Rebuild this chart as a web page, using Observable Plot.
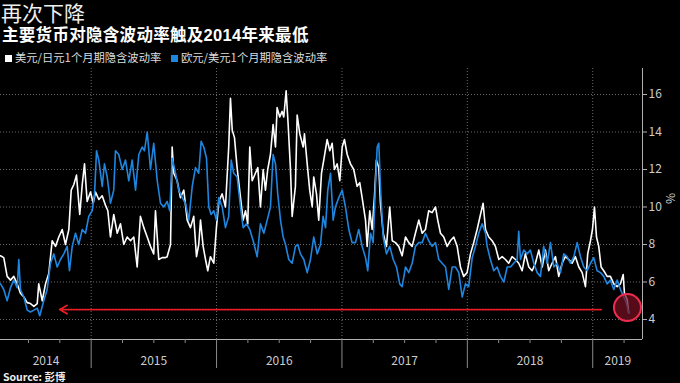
<!DOCTYPE html>
<html><head><meta charset="utf-8">
<script src="https://cdn.jsdelivr.net/npm/d3@7"></script>
<script src="https://cdn.jsdelivr.net/npm/@observablehq/plot@0.6"></script>
<style>
html,body{margin:0;padding:0;background:#000;width:680px;height:383px;overflow:hidden;font-family:"Noto Sans CJK SC","Noto Sans",sans-serif;}
#title{position:absolute;left:1px;top:2px;font-family:"Liberation Sans","Noto Sans CJK SC",sans-serif;font-size:21px;color:#eee;line-height:24px;white-space:nowrap}
#subtitle{position:absolute;left:2px;top:25px;font-family:"Liberation Sans","Noto Sans CJK SC",sans-serif;font-size:16.5px;font-weight:bold;color:#fff;line-height:20px;white-space:nowrap;letter-spacing:0.3px}
.leg{position:absolute;top:49px;font-size:11.3px;color:#ddd;line-height:16px;white-space:nowrap}
.sw{display:inline-block;width:7px;height:7px;margin-right:3px;vertical-align:0px}
#chart{position:absolute;left:0;top:64px}
#source{position:absolute;left:3px;top:370px;font-size:10.5px;font-weight:bold;color:#eee;line-height:14px;white-space:nowrap}
</style></head>
<body>
<div id="title">再次下降</div>
<div id="subtitle">主要货币对隐含波动率触及2014年来最低</div>
<div class="leg" style="left:5px"><span class="sw" style="background:#fff"></span>美元/日元1个月期隐含波动率</div>
<div class="leg" style="left:171px"><span class="sw" style="background:#1f86e0"></span>欧元/美元1个月期隐含波动率</div>
<div id="chart"></div>
<div id="source">Source: 彭博</div>
<script>
// [decimal year, implied vol %]
const usdjpy = [[2014.277,7.4],[2014.303,7.3],[2014.330,6.3],[2014.357,6.1],[2014.383,6.3],[2014.410,5.9],[2014.436,5.4],[2014.463,5.2],[2014.490,4.9],[2014.516,4.85],[2014.543,4.7],[2014.570,4.85],[2014.582,5.9],[2014.610,5.0],[2014.636,5.9],[2014.662,6.45],[2014.689,8.2],[2014.716,7.9],[2014.742,8.4],[2014.769,8.8],[2014.795,8.0],[2014.822,8.8],[2014.841,10.9],[2014.862,11.2],[2014.883,11.7],[2014.909,9.6],[2014.929,11.2],[2014.947,12.3],[2014.968,10.3],[2014.995,10.8],[2015.016,10.2],[2015.035,10.8],[2015.061,10.4],[2015.088,10.6],[2015.114,10.1],[2015.133,9.8],[2015.154,8.4],[2015.180,9.6],[2015.208,8.6],[2015.234,9.1],[2015.260,8.0],[2015.287,8.4],[2015.314,8.2],[2015.340,8.4],[2015.367,6.8],[2015.393,9.5],[2015.420,8.9],[2015.447,8.4],[2015.473,7.9],[2015.499,7.5],[2015.513,9.8],[2015.539,7.2],[2015.566,7.3],[2015.593,7.3],[2015.606,7.35],[2015.633,8.0],[2015.646,13.2],[2015.659,11.8],[2015.686,11.4],[2015.712,10.5],[2015.739,10.9],[2015.766,9.3],[2015.792,8.9],[2015.818,9.5],[2015.840,7.35],[2015.858,8.0],[2015.872,9.3],[2015.893,7.9],[2015.912,7.2],[2015.930,6.6],[2015.951,7.35],[2015.978,7.0],[2015.999,8.9],[2016.018,10.3],[2016.045,10.7],[2016.071,10.0],[2016.097,13.2],[2016.111,15.8],[2016.125,14.1],[2016.143,13.7],[2016.164,12.1],[2016.191,10.5],[2016.212,9.3],[2016.231,9.8],[2016.249,9.1],[2016.265,13.2],[2016.284,11.4],[2016.310,11.8],[2016.329,12.1],[2016.350,10.0],[2016.372,12.0],[2016.390,10.9],[2016.408,12.0],[2016.430,12.8],[2016.451,14.4],[2016.470,13.2],[2016.483,15.3],[2016.504,14.8],[2016.523,15.1],[2016.536,14.8],[2016.555,16.2],[2016.571,14.4],[2016.589,12.1],[2016.603,9.5],[2016.629,11.1],[2016.643,14.9],[2016.664,13.9],[2016.691,13.2],[2016.701,13.9],[2016.723,12.3],[2016.743,10.9],[2016.763,10.0],[2016.775,11.6],[2016.797,10.7],[2016.815,9.3],[2016.837,11.8],[2016.855,12.5],[2016.882,13.6],[2016.903,13.0],[2016.922,13.4],[2016.940,12.0],[2016.962,12.3],[2016.983,11.4],[2017.002,13.2],[2017.020,13.6],[2017.042,12.8],[2017.068,12.3],[2017.094,12.0],[2017.121,11.1],[2017.142,11.3],[2017.161,10.5],[2017.188,9.3],[2017.201,7.9],[2017.222,9.8],[2017.241,8.8],[2017.259,10.5],[2017.275,12.5],[2017.294,12.1],[2017.307,10.2],[2017.329,8.6],[2017.355,7.9],[2017.381,10.0],[2017.401,8.2],[2017.427,8.1],[2017.453,7.9],[2017.480,7.4],[2017.507,8.4],[2017.533,8.1],[2017.560,7.9],[2017.586,8.6],[2017.613,9.3],[2017.640,8.6],[2017.666,8.8],[2017.692,9.8],[2017.719,9.7],[2017.746,10.0],[2017.764,9.3],[2017.786,8.6],[2017.812,8.4],[2017.839,7.9],[2017.865,8.2],[2017.892,8.4],[2017.919,7.9],[2017.945,6.8],[2017.971,6.3],[2017.998,6.5],[2018.025,7.5],[2018.051,8.1],[2018.078,8.8],[2018.105,9.6],[2018.126,10.2],[2018.145,8.8],[2018.171,8.4],[2018.198,8.2],[2018.224,7.9],[2018.251,7.2],[2018.278,7.35],[2018.304,7.2],[2018.330,7.0],[2018.357,7.35],[2018.384,7.2],[2018.410,7.0],[2018.437,6.6],[2018.463,7.5],[2018.490,6.8],[2018.517,6.6],[2018.543,7.0],[2018.570,7.7],[2018.597,6.8],[2018.623,7.7],[2018.649,6.6],[2018.676,7.0],[2018.703,7.35],[2018.729,6.3],[2018.756,7.0],[2018.782,7.35],[2018.809,7.2],[2018.836,7.0],[2018.862,7.35],[2018.889,6.8],[2018.916,6.5],[2018.942,5.75],[2018.960,7.5],[2018.982,8.2],[2018.998,8.8],[2019.014,10.0],[2019.030,8.4],[2019.048,7.9],[2019.067,6.8],[2019.088,6.6],[2019.115,6.3],[2019.141,6.3],[2019.168,5.9],[2019.195,5.75],[2019.221,5.9],[2019.243,6.4],[2019.253,5.4],[2019.275,5.05],[2019.287,4.35]];

const eurusd = [[2014.277,5.9],[2014.303,5.6],[2014.330,5.0],[2014.357,5.7],[2014.383,6.1],[2014.410,5.7],[2014.423,7.2],[2014.436,5.6],[2014.463,5.2],[2014.490,4.5],[2014.516,4.4],[2014.543,4.5],[2014.570,4.6],[2014.590,4.2],[2014.622,5.0],[2014.649,5.6],[2014.676,7.0],[2014.702,7.5],[2014.729,6.8],[2014.755,7.2],[2014.782,7.5],[2014.809,7.9],[2014.827,6.6],[2014.849,7.9],[2014.875,8.6],[2014.901,8.0],[2014.929,8.8],[2014.955,8.6],[2014.981,9.5],[2015.008,9.8],[2015.027,10.7],[2015.043,13.0],[2015.061,12.5],[2015.088,11.1],[2015.106,12.3],[2015.128,11.6],[2015.154,10.2],[2015.180,10.9],[2015.194,13.0],[2015.220,12.8],[2015.248,12.0],[2015.274,12.5],[2015.300,11.4],[2015.327,12.5],[2015.354,10.9],[2015.380,12.8],[2015.407,13.2],[2015.425,13.0],[2015.447,14.0],[2015.473,12.0],[2015.499,13.4],[2015.527,11.4],[2015.553,10.2],[2015.579,10.0],[2015.606,10.3],[2015.627,9.8],[2015.646,12.6],[2015.673,11.8],[2015.699,10.9],[2015.726,10.5],[2015.752,10.2],[2015.779,9.3],[2015.806,11.1],[2015.832,12.1],[2015.858,11.8],[2015.877,13.5],[2015.898,13.2],[2015.920,12.6],[2015.938,10.0],[2015.957,9.6],[2015.978,9.8],[2015.999,9.3],[2016.018,10.5],[2016.045,10.0],[2016.071,8.9],[2016.097,9.5],[2016.117,12.5],[2016.137,11.8],[2016.164,11.6],[2016.191,10.0],[2016.212,8.9],[2016.239,9.1],[2016.265,8.8],[2016.292,8.2],[2016.324,7.35],[2016.350,9.1],[2016.377,8.6],[2016.404,9.3],[2016.430,10.0],[2016.451,12.8],[2016.470,12.3],[2016.488,10.7],[2016.510,9.3],[2016.531,8.4],[2016.550,8.0],[2016.576,7.2],[2016.603,7.0],[2016.629,7.9],[2016.648,8.0],[2016.669,7.5],[2016.696,7.2],[2016.723,6.5],[2016.749,7.2],[2016.775,8.4],[2016.803,7.5],[2016.829,8.0],[2016.850,9.5],[2016.869,8.9],[2016.887,10.9],[2016.909,11.8],[2016.930,9.3],[2016.948,10.0],[2016.975,10.5],[2017.002,10.9],[2017.028,10.0],[2017.055,8.8],[2017.081,8.1],[2017.108,8.1],[2017.134,8.8],[2017.161,7.9],[2017.188,7.3],[2017.206,6.6],[2017.228,8.6],[2017.249,8.1],[2017.267,11.1],[2017.281,13.2],[2017.294,13.4],[2017.307,11.1],[2017.329,8.4],[2017.355,7.5],[2017.381,7.9],[2017.409,7.2],[2017.435,6.8],[2017.461,5.9],[2017.480,5.75],[2017.507,6.8],[2017.533,6.5],[2017.560,7.0],[2017.586,7.9],[2017.613,8.1],[2017.640,8.1],[2017.666,8.6],[2017.692,8.2],[2017.719,7.9],[2017.746,8.1],[2017.772,7.2],[2017.799,7.0],[2017.826,6.8],[2017.852,5.6],[2017.879,6.8],[2017.905,6.8],[2017.932,6.5],[2017.959,5.2],[2017.985,5.9],[2018.011,5.75],[2018.039,7.3],[2018.065,7.9],[2018.091,8.6],[2018.118,9.1],[2018.145,8.6],[2018.158,7.9],[2018.184,7.2],[2018.211,6.6],[2018.238,6.8],[2018.264,6.3],[2018.291,6.0],[2018.318,6.8],[2018.344,6.8],[2018.370,7.0],[2018.397,7.2],[2018.410,8.7],[2018.424,7.2],[2018.450,7.7],[2018.477,7.5],[2018.503,7.7],[2018.530,7.0],[2018.557,6.5],[2018.583,6.3],[2018.609,7.9],[2018.637,7.0],[2018.663,8.1],[2018.690,6.8],[2018.716,7.0],[2018.743,6.5],[2018.769,7.5],[2018.796,7.35],[2018.822,7.0],[2018.849,7.35],[2018.876,8.1],[2018.902,7.35],[2018.929,6.8],[2018.956,6.6],[2018.982,7.0],[2019.008,7.3],[2019.035,6.6],[2019.062,6.5],[2019.088,6.3],[2019.115,5.9],[2019.141,6.1],[2019.168,5.6],[2019.195,6.1],[2019.221,5.6],[2019.248,5.2],[2019.267,4.9],[2019.287,4.35]];

const yTicks = [4, 6, 8, 10, 12, 14, 16];
const yearStarts = [2015, 2016, 2017, 2018, 2019];
const quarterTicks = [2014.5, 2014.75, 2015.25, 2015.5, 2015.75, 2016.25, 2016.5, 2016.75, 2017.25, 2017.5, 2017.75, 2018.25, 2018.5, 2018.75, 2019.25];
const yearLabelPos = [2014.64, 2015.5, 2016.5, 2017.5, 2018.5, 2019.2];
const yearLabels = ["2014", "2015", "2016", "2017", "2018", "2019"];
// annotation: dotted arrow at the 2014 low level and circle on latest reading
const arrowNote = [{from: 2019.067, to: 2014.750, level: 4.53}];
const circleNote = [{t: 2019.277, v: 4.64}];

const xDomain = [2014.277, 2019.397];
const yDomain = [2.933, 17.387];

const toRows = a => a.map(([t, v]) => ({t, v}));
const labelOf = new Map(yearLabelPos.map((p, i) => [p, yearLabels[i]]));

const blue = "#1f86e0";
const chart = Plot.plot({
  width: 680, height: 308,
  marginLeft: 0, marginRight: 38, marginTop: 4, marginBottom: 33,
  x: {domain: xDomain},
  y: {domain: yDomain},
  style: {background: "#000", color: "#ccc", fontFamily: "'Noto Sans CJK SC','Noto Sans',sans-serif", fontSize: "12px", overflow: "visible"},
  marks: [
    Plot.ruleY(yTicks, {stroke: "#6a6a6a", strokeDasharray: "1,2"}),
    Plot.ruleX(yearStarts, {stroke: "#6a6a6a", strokeDasharray: "1,2"}),
    Plot.line(toRows(usdjpy), {x: "t", y: "v", stroke: "#ffffff", strokeWidth: 1.6}),
    Plot.line(toRows(eurusd), {x: "t", y: "v", stroke: blue, strokeWidth: 1.6}),
    Plot.arrow(arrowNote, {x1: "from", x2: "to", y1: "level", y2: "level", stroke: "#ee1c24", strokeWidth: 1.8, strokeDasharray: "1.4,1.4", headLength: 7}),
    Plot.dot(circleNote, {x: "t", y: "v", r: 13.5, fill: "#7a0f22", fillOpacity: 0.7, stroke: "#ee2c4f", strokeWidth: 2}),
    Plot.ruleY([yDomain[0]], {stroke: "#b0b0b0"}),
    Plot.ruleX([xDomain[1]], {stroke: "#b0b0b0"}),
    Plot.axisY({anchor: "right", ticks: yTicks, tickSize: 4, tickPadding: 2, label: null, stroke: "#b0b0b0", fill: "#ccc", fontSize: 12}),
    Plot.axisX({ticks: yearStarts, tickSize: 29, tickFormat: () => "", label: null, stroke: "#8a8a8a"}),
    Plot.axisX({ticks: quarterTicks, tickSize: 4, tickFormat: () => "", label: null, stroke: "#8a8a8a"}),
    Plot.axisX({ticks: yearLabelPos, tickSize: 0, tickPadding: 17, tickFormat: d => labelOf.get(d), label: null, fill: "#ccc", fontSize: 12}),
    Plot.text(["%"], {frameAnchor: "right", dx: 27, rotate: 90, fill: "#ccc", fontSize: 12})
  ]
});
document.getElementById("chart").appendChild(chart);
</script>
</body></html>
